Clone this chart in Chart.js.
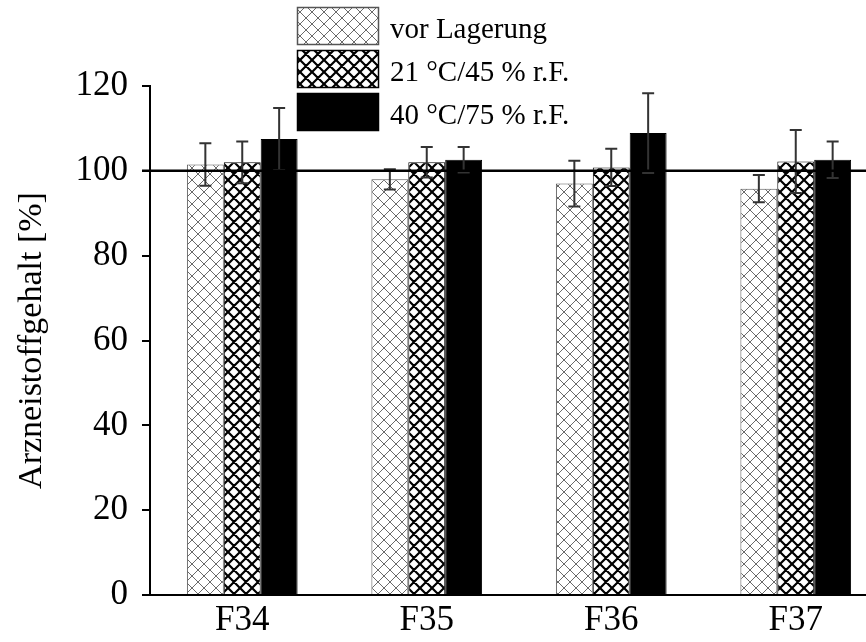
<!DOCTYPE html>
<html>
<head>
<meta charset="utf-8">
<script src="https://cdn.jsdelivr.net/npm/chart.js@4.4.1/dist/chart.umd.min.js"></script>
<style>
  html, body { margin: 0; padding: 0; background: #fff; overflow: hidden; }
  #wrap { width: 890px; height: 642px; position: relative; }
</style>
</head>
<body>
<div id="wrap"><canvas id="chart"></canvas></div>
<script>
const categories = ['F34', 'F35', 'F36', 'F37'];
const seriesLabels = ['vor Lagerung', '21 °C/45 % r.F.', '40 °C/75 % r.F.'];

// Mittelwerte und Standardabweichungen je Formulierung
const vorLagerung = [101.5, 98.0, 97.0, 95.8];
const vorLagerungSd = [5.0, 2.4, 5.4, 3.2];
const klima21 = [102.0, 102.0, 100.8, 102.2];
const klima21Sd = [4.9, 3.6, 4.4, 7.4];
const klima40 = [107.5, 102.6, 108.9, 102.6];
const klima40Sd = [7.3, 3.0, 9.4, 4.3];

const yTicks = [0, 20, 40, 60, 80, 100, 120];
const refLine = 100;

const FONT = '"Liberation Serif", "Times New Roman", serif';

// Kreuzschraffur als Muster
function hatch(color, lineWidth, size) {
    const c = document.createElement('canvas');
    c.width = size; c.height = size;
    const g = c.getContext('2d');
    g.fillStyle = '#fff';
    g.fillRect(0, 0, size, size);
    g.strokeStyle = color;
    g.lineWidth = lineWidth;
    g.beginPath();
    for (let k = -1; k <= 1; k++) {
        g.moveTo(k * size, 0); g.lineTo(k * size + size, size);
        g.moveTo(k * size + size, 0); g.lineTo(k * size, size);
    }
    g.stroke();
    return g.createPattern(c, 'repeat');
}

const ctx = document.getElementById('chart').getContext('2d');
const lightHatch = hatch('#6a6a6a', 1, 12);
const darkHatch = hatch('#000', 2.2, 12);

const errorSets = [vorLagerungSd, klima21Sd, klima40Sd];

const errorBars = {
    id: 'errorBars',
    afterDatasetsDraw(chart) {
        const y = chart.scales.y;
        const c = chart.ctx;
        c.save();
        c.strokeStyle = '#333';
        c.lineWidth = 2;
        chart.data.datasets.forEach((ds, di) => {
            const meta = chart.getDatasetMeta(di);
            meta.data.forEach((bar, i) => {
                const v = ds.data[i], sd = errorSets[di][i];
                const top = y.getPixelForValue(v + sd);
                const bot = y.getPixelForValue(v - sd);
                c.beginPath();
                c.moveTo(bar.x, top); c.lineTo(bar.x, bot);
                c.moveTo(bar.x - 6, top); c.lineTo(bar.x + 6, top);
                c.moveTo(bar.x - 6, bot); c.lineTo(bar.x + 6, bot);
                c.stroke();
            });
        });
        // Bezugslinie bei 100 %
        const py = y.getPixelForValue(refLine);
        c.strokeStyle = '#000';
        c.lineWidth = 2.5;
        c.beginPath();
        c.moveTo(chart.chartArea.left - 8, py);
        c.lineTo(chart.width, py);
        c.stroke();
        c.restore();
    }
};

const boxLegend = {
    id: 'boxLegend',
    afterDraw(chart) {
        const c = chart.ctx;
        const rows = [[297, 7], [297, 50], [297, 93]];
        c.save();
        c.font = '29px ' + FONT;
        c.textBaseline = 'alphabetic';
        chart.data.datasets.forEach((ds, i) => {
            const [bx, by] = rows[i];
            c.fillStyle = ds.backgroundColor;
            c.fillRect(bx, by, 82, 38);
            c.strokeStyle = ds.borderColor;
            c.lineWidth = 1.5;
            c.strokeRect(bx + 0.5, by + 0.5, 81, 37);
            c.fillStyle = '#000';
            c.fillText(ds.label, 390, by + 19 + 12);
        });
        c.restore();
    }
};

new Chart(ctx, {
    type: 'bar',
    data: {
        labels: categories,
        datasets: [
            { label: seriesLabels[0], data: vorLagerung, backgroundColor: lightHatch, borderColor: '#555', borderWidth: 1 },
            { label: seriesLabels[1], data: klima21, backgroundColor: darkHatch, borderColor: '#000', borderWidth: 1 },
            { label: seriesLabels[2], data: klima40, backgroundColor: '#000', borderColor: '#000', borderWidth: 1 }
        ]
    },
    options: {
        responsive: true,
        maintainAspectRatio: false,
        animation: false,
        layout: { padding: { top: 86, right: 2, bottom: 0, left: 0 } },
        datasets: { bar: { categoryPercentage: 0.6, barPercentage: 1.0 } },
        plugins: { legend: { display: false }, tooltip: { enabled: false } },
        scales: {
            x: {
                grid: { display: false, drawTicks: false },
                border: { display: true, color: '#000', width: 2 },
                ticks: { color: '#000', font: { family: FONT, size: 35 }, padding: 5 },
                afterFit(s) { s.height = 47; }
            },
            y: {
                min: 0, max: 120,
                afterBuildTicks(s) { s.ticks = yTicks.map(v => ({ value: v })); },
                grid: { drawOnChartArea: false, drawTicks: true, tickLength: 8, color: '#000', lineWidth: 2 },
                border: { display: true, color: '#000', width: 2 },
                ticks: { color: '#000', font: { family: FONT, size: 35 }, padding: 14 },
                title: { display: true, text: 'Arzneistoffgehalt [%]', color: '#000', font: { family: FONT, size: 34 }, padding: { top: 12, bottom: 0 } },
                afterFit(s) { s.width = 150; }
            }
        }
    },
    plugins: [errorBars, boxLegend]
});
</script>
</body>
</html>
